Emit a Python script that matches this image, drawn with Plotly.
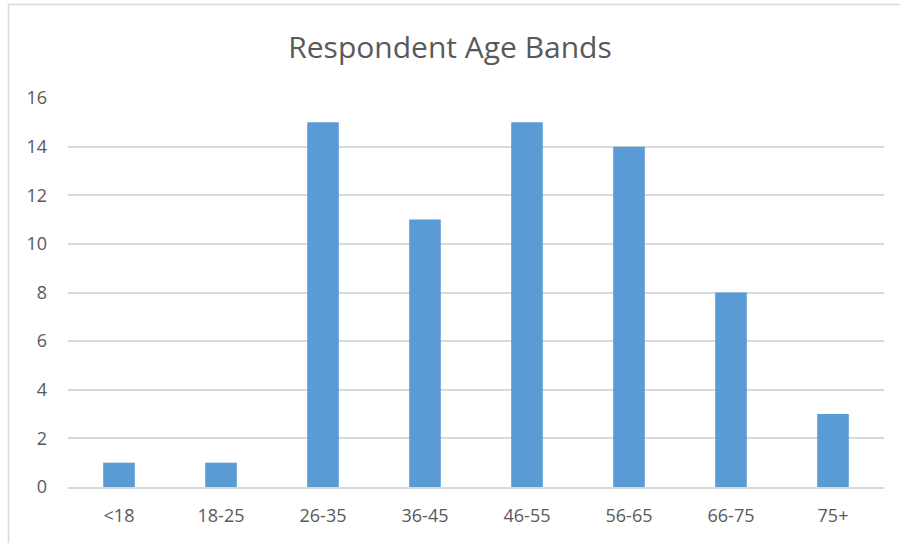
import plotly.graph_objects as go

categories = ["<18", "18-25", "26-35", "36-45", "46-55", "56-65", "66-75", "75+"]
values = [1, 1, 15, 11, 15, 14, 8, 3]
y_ticks = [0, 2, 4, 6, 8, 10, 12, 14, 16]

W, H = 900, 543
L, R, T, B = 68, 16, 98, 56
pw, ph = W - L - R, H - T - B

def px_x(x):
    return (x - L) / pw

def px_y(y):
    return (H - B - y) / ph

fig = go.Figure(go.Bar(
    x=categories, y=values,
    marker=dict(color="#5B9BD5", line=dict(width=0)),
    width=0.31,
))

fig.update_layout(
    width=W, height=H,
    margin=dict(l=L, r=R, t=T, b=B),
    paper_bgcolor="white", plot_bgcolor="white",
    font=dict(family="Open Sans, Noto Sans, sans-serif", color="#595959", size=18),
    title=dict(text="Respondent Age Bands", x=0.5, xanchor="center",
               y=1 - 47 / H, yanchor="middle",
               font=dict(size=30, color="#595959")),
    showlegend=False,
    xaxis=dict(showgrid=False, showline=True, linecolor="#D9D9D9", linewidth=1.5,
               ticks="", tickfont=dict(size=18), ticklabelstandoff=12, fixedrange=True),
    yaxis=dict(range=[0, 16], tickvals=y_ticks, showgrid=True, gridcolor="#D9D9D9",
               gridwidth=1.5, zeroline=False, showline=False, ticks="",
               tickfont=dict(size=18), ticklabelstandoff=20, fixedrange=True),
    shapes=[dict(type="rect", xref="paper", yref="paper",
                 x0=px_x(8.5), x1=px_x(906), y0=px_y(560), y1=px_y(4.5),
                 line=dict(color="#D9D9D9", width=1.5), fillcolor="rgba(0,0,0,0)",
                 layer="below")],
)

fig.write_html("out.html", config={"displayModeBar": False},
               post_script="document.body.style.margin='0';")
